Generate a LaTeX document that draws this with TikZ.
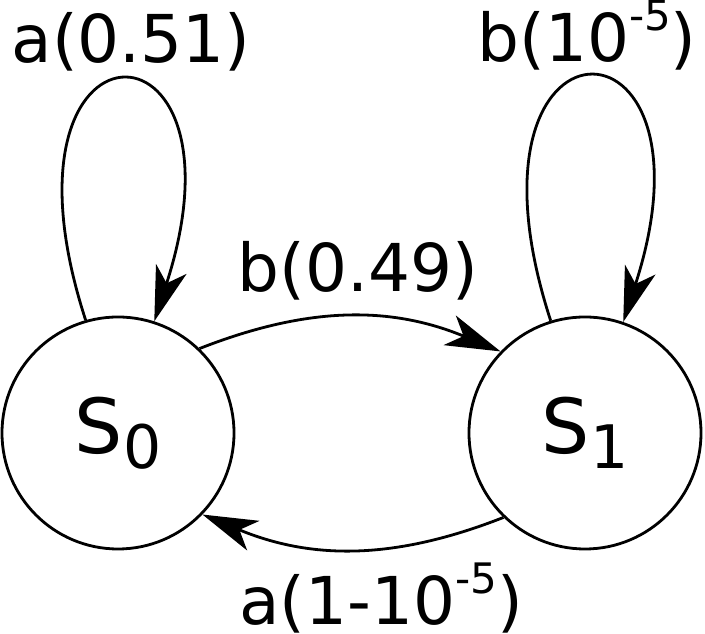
\documentclass[tikz,border=0pt]{standalone}
\usepackage{fontspec}
\setmainfont{DejaVu Sans}
\usetikzlibrary{arrows.meta}
\newcommand{\subidx}[1]{\raisebox{-15pt}{\fontsize{60}{60}\selectfont #1}}
\newcommand{\supidx}[1]{\raisebox{31pt}{\fontsize{42}{42}\selectfont #1}}

\begin{document}
\begin{tikzpicture}[x=1pt, y=1pt,
  statenode/.style={draw, circle, line width=2.8pt, minimum size=232pt, inner sep=0pt, font=\fontsize{76}{76}\selectfont},
  trans/.style={-{Stealth[length=55pt, width=32pt, inset=15pt]}, line width=2.8pt},
  prob/.style={anchor=base, font=\fontsize{66}{66}\selectfont}]
\useasboundingbox (0,0) rectangle (705,634);

% Etats
\node[statenode] (s0) at (118,201) {S\subidx{0}};
\node[statenode] (s1) at (585,201) {S\subidx{1}};

% Boucles
\draw[trans] (s0.106) .. controls +(108:335) and +(72:335) .. (s0.72);
\draw[trans] (s1.107) .. controls +(108:340) and +(72:340) .. (s1.71);

% Transitions
\draw[trans] (s0.46) to[bend left=22] (s1.136);
\draw[trans] (s1.226) to[bend left=22] (s0.316);

% Probabilites
\node[prob] (p00) at (131,571) {a(0.51)};
\node[prob] (p11) at (587,572) {b(10\supidx{-5})};
\node[prob] (p01) at (358,342) {b(0.49)};
\node[prob] (p10) at (381,9) {a(1-10\supidx{-5})};

\end{tikzpicture}
\end{document}
